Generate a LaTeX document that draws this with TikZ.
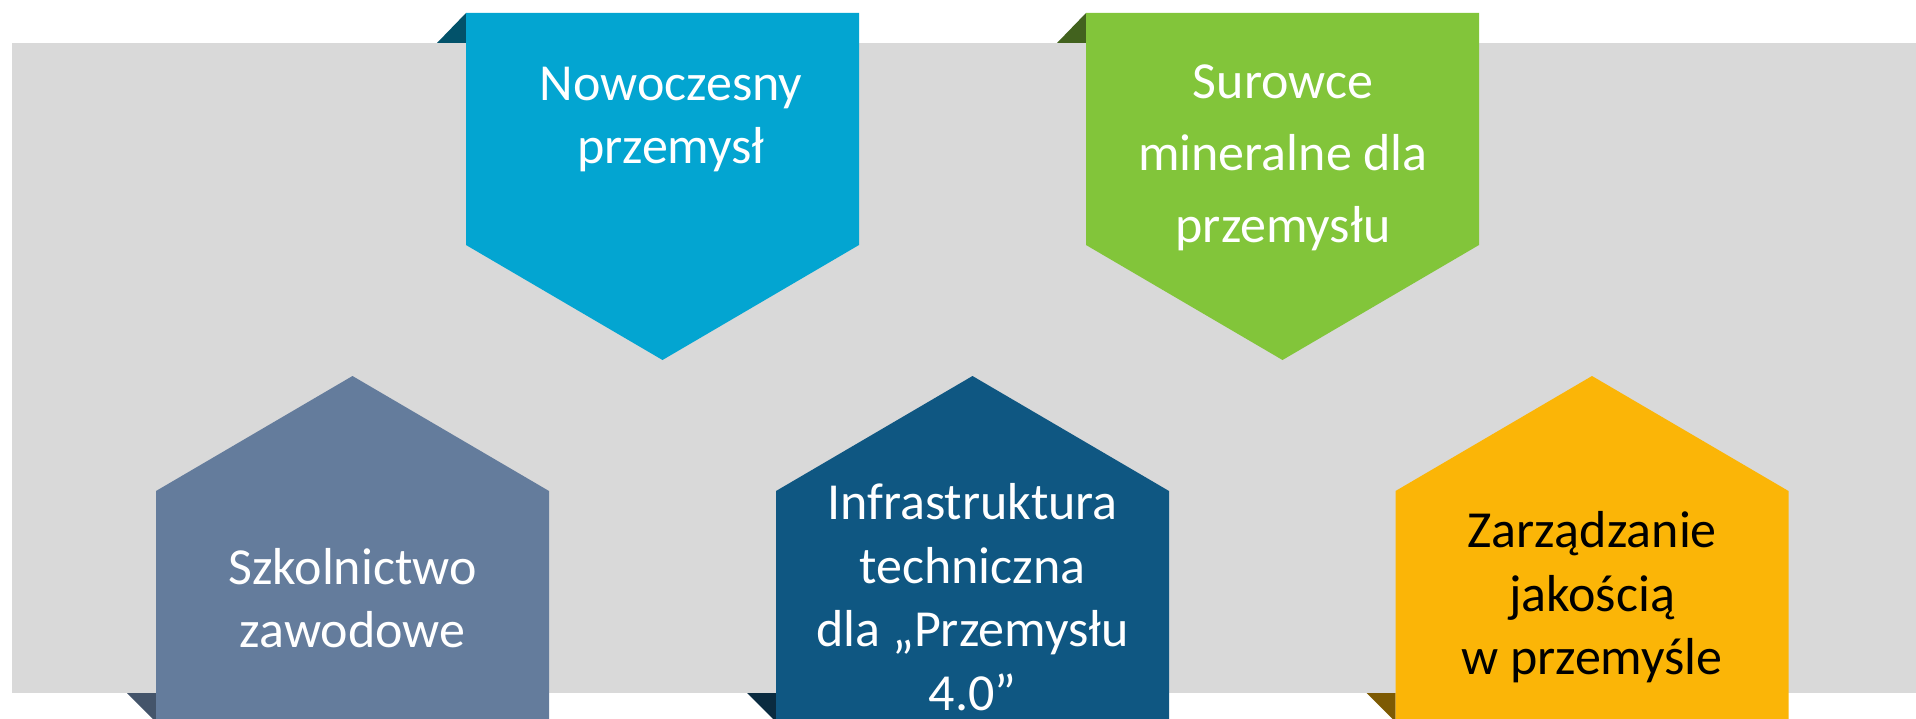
\documentclass[tikz,border=0pt]{standalone}
\usepackage{fontspec}
\setmainfont{Carlito}
\usepackage{tikz}

\definecolor{bggray}{HTML}{D9D9D9}
\definecolor{nblue}{HTML}{03A5D1}
\definecolor{nbluefold}{HTML}{02526A}
\definecolor{ngreen}{HTML}{82C53A}
\definecolor{ngreenfold}{HTML}{42621E}
\definecolor{nslate}{HTML}{647C9C}
\definecolor{nslatefold}{HTML}{44546A}
\definecolor{nnavy}{HTML}{0F5782}
\definecolor{nnavyfold}{HTML}{0A2B40}
\definecolor{namber}{HTML}{FBB507}
\definecolor{namberfold}{HTML}{7D5A03}

\begin{document}
\begin{tikzpicture}[x=1pt, y=-1pt, lbl/.style={align=center, text=white, inner sep=0pt, font=\fontsize{52}{63.5}\selectfont}]
  \useasboundingbox (0,0) rectangle (1916,719);
  \fill[bggray] (12,43) rectangle (1916,693);
  % banners hanging from the top
  \foreach \x/\c/\f in {466/nblue/nbluefold, 1086/ngreen/ngreenfold}{
    \fill[\f] (\x-29,43) -- (\x,13) -- (\x,43) -- cycle;
    \fill[\c] (\x,13) -- (\x+393,13) -- (\x+393,245) -- (\x+196.5,360) -- (\x,245) -- cycle;
  }
  % banners rising from the bottom
  \foreach \x/\c/\f in {156/nslate/nslatefold, 776/nnavy/nnavyfold, 1395.5/namber/namberfold}{
    \fill[\f] (\x-29,693) -- (\x,693) -- (\x,722) -- cycle;
    \fill[\c] (\x,725) -- (\x,491) -- (\x+196.5,376) -- (\x+393,491) -- (\x+393,725) -- cycle;
  }
  \node[lbl] (modern) at (671,119.5) {Nowoczesny\\przemysł};
  \node[lbl, font=\fontsize{52}{72}\selectfont] (raw) at (1283,157.5) {Surowce\\mineralne dla\\przemysłu};
  \node[lbl] (school) at (352.5,598) {Szkolnictwo\\zawodowe};
  \node[lbl] (infra) at (972.5,597) {Infrastruktura\\techniczna\\dla „Przemysłu\\4.0”};
  \node[lbl, text=black] (quality) at (1592,597.5) {Zarządzanie\\jakością\\w przemyśle};
\end{tikzpicture}
\end{document}
